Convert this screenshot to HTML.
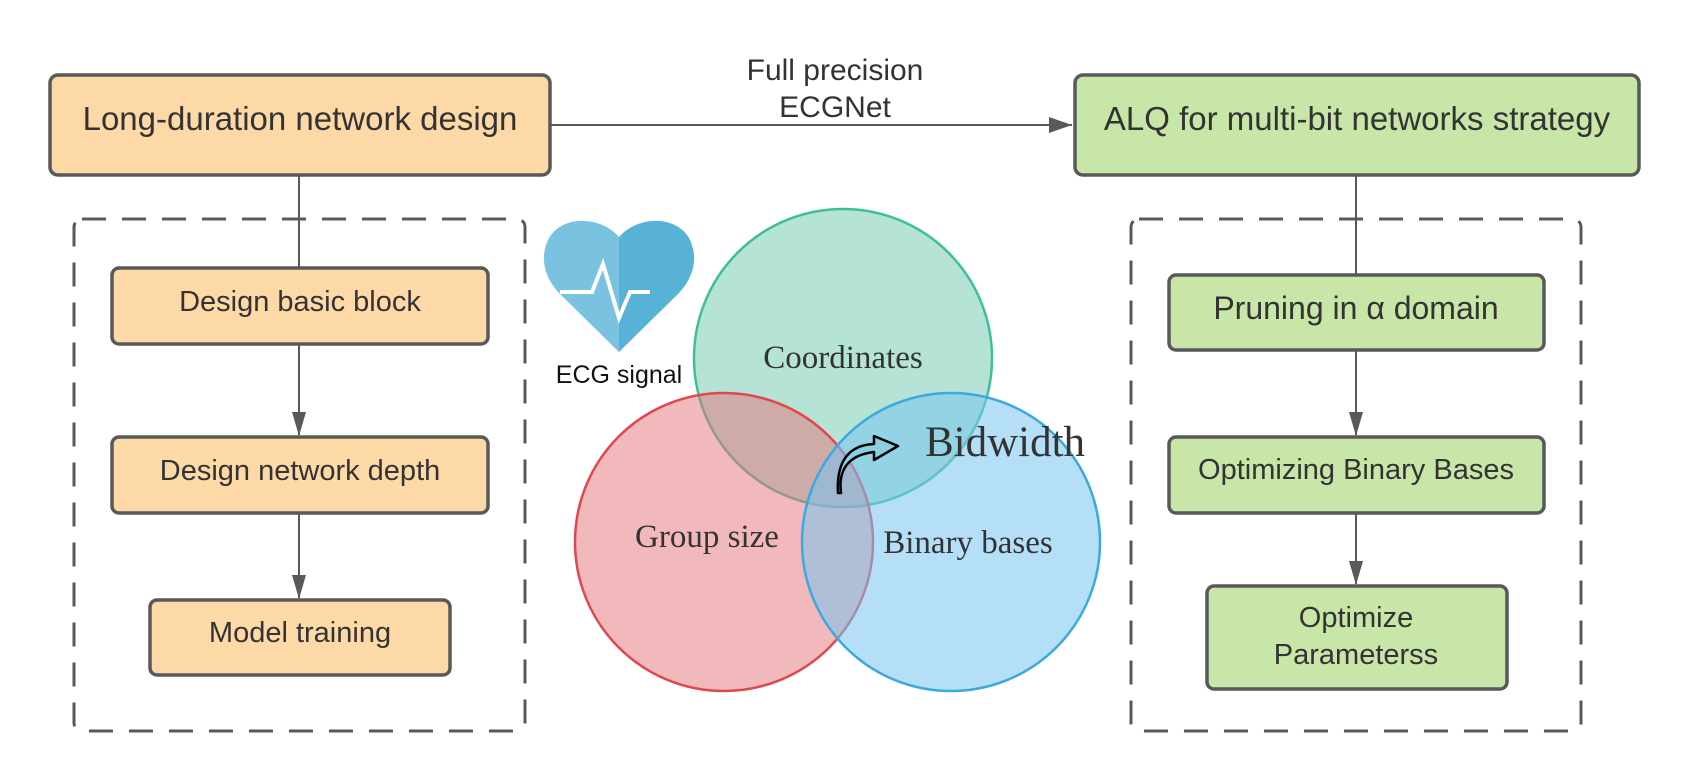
<!DOCTYPE html>
<html><head><meta charset="utf-8"><style>
html,body{margin:0;padding:0;background:#fff}
svg{display:block}
</style></head><body>
<svg width="1689" height="782" viewBox="0 0 1689 782" xmlns="http://www.w3.org/2000/svg">
<defs>
<marker id="av" markerWidth="24" markerHeight="16" refX="23" refY="8" orient="auto" markerUnits="userSpaceOnUse"><path d="M0,1 L24,8 L0,15 Z" fill="#595959"/></marker>
</defs>
<g font-family="Liberation Sans, sans-serif" fill="#333">
<rect x="74" y="219" width="451" height="512" rx="8" fill="none" stroke="#595959" stroke-width="3" stroke-dasharray="24,16"/>
<rect x="1131" y="219" width="450" height="512" rx="8" fill="none" stroke="#595959" stroke-width="3" stroke-dasharray="24,16"/>
<line x1="299" y1="175" x2="299" y2="268" stroke="#595959" stroke-width="2"/>
<line x1="299" y1="344" x2="299" y2="435" stroke="#595959" stroke-width="2" marker-end="url(#av)"/>
<line x1="299" y1="513" x2="299" y2="598" stroke="#595959" stroke-width="2" marker-end="url(#av)"/>
<line x1="1356" y1="175" x2="1356" y2="275" stroke="#595959" stroke-width="2"/>
<line x1="1356" y1="350" x2="1356" y2="435" stroke="#595959" stroke-width="2" marker-end="url(#av)"/>
<line x1="1356" y1="513" x2="1356" y2="584" stroke="#595959" stroke-width="2" marker-end="url(#av)"/>
<line x1="551" y1="125" x2="1072" y2="125" stroke="#595959" stroke-width="2"/>
<path d="M1049,117 L1072,125 L1049,133 Z" fill="#595959"/>
<text x="835" y="80" font-size="30" text-anchor="middle">Full precision</text>
<text x="835" y="117" font-size="30" text-anchor="middle">ECGNet</text>
<rect x="50" y="75" width="500" height="100" rx="8" fill="#fed9a8" stroke="#595959" stroke-width="3.5"/>
<text x="300" y="130" font-size="33" text-anchor="middle">Long-duration network design</text>
<rect x="1075" y="75" width="564" height="100" rx="8" fill="#c8e6a8" stroke="#595959" stroke-width="3.5"/>
<text x="1357" y="130" font-size="33" text-anchor="middle">ALQ for multi-bit networks strategy</text>
<rect x="112" y="268" width="376" height="76" rx="7" fill="#fed9a8" stroke="#595959" stroke-width="3.5"/>
<text x="300" y="311" font-size="29" text-anchor="middle">Design basic block</text>
<rect x="112" y="437" width="376" height="76" rx="7" fill="#fed9a8" stroke="#595959" stroke-width="3.5"/>
<text x="300" y="480" font-size="29" text-anchor="middle">Design network depth</text>
<rect x="150" y="600" width="300" height="75" rx="7" fill="#fed9a8" stroke="#595959" stroke-width="3.5"/>
<text x="300" y="642" font-size="29" text-anchor="middle">Model training</text>
<rect x="1169" y="275" width="375" height="75" rx="7" fill="#c8e6a8" stroke="#595959" stroke-width="3.5"/>
<text x="1356" y="319" font-size="32" text-anchor="middle">Pruning in α domain</text>
<rect x="1169" y="437" width="375" height="76" rx="7" fill="#c8e6a8" stroke="#595959" stroke-width="3.5"/>
<text x="1356" y="479" font-size="29" text-anchor="middle">Optimizing Binary Bases</text>
<rect x="1207" y="586" width="300" height="103" rx="7" fill="#c8e6a8" stroke="#595959" stroke-width="3.5"/>
<text x="1356" y="627" font-size="29" text-anchor="middle">Optimize</text>
<text x="1356" y="664" font-size="29" text-anchor="middle">Parameterss</text>
<path d="M619,237 C600,215 560,215 548,240 C538,262 548,282 560,294 L619,352 Z" fill="#7ac3e0"/>
<path d="M619,237 C638,215 678,215 690,240 C700,262 690,282 678,294 L619,352 Z" fill="#58b2d8"/>
<polyline points="560,292 592,292 603,264 619,318 630,292 650,292" fill="none" stroke="#fff" stroke-width="4"/>
<text x="619" y="383" font-size="25" text-anchor="middle" fill="#111">ECG signal</text>
<circle cx="843" cy="358" r="149" fill="#7fd0b8" fill-opacity="0.58" stroke="#3fbf98" stroke-width="2.5"/>
<circle cx="724" cy="542" r="149" fill="#e6737a" fill-opacity="0.5" stroke="#e0474f" stroke-width="2.5"/>
<circle cx="951" cy="542" r="149" fill="#78c4ee" fill-opacity="0.55" stroke="#3aa9e0" stroke-width="2.5"/>
<g font-family="Liberation Serif, serif" fill="#333">
<text x="843" y="368" font-size="33" text-anchor="middle">Coordinates</text>
<text x="707" y="547" font-size="33" text-anchor="middle">Group size</text>
<text x="968" y="553" font-size="33" text-anchor="middle">Binary bases</text>
<text x="1005" y="456" font-size="43" text-anchor="middle">Bidwidth</text>
</g>
<path d="M841,493 C838,470 848,455 874,452 L874,460 L898,446 L874,436 L874,444 C850,445 836,460 838,493 Z" fill="#8cd0e0" stroke="#000" stroke-width="2.5" stroke-linejoin="round"/>
</g>
</svg>
</body></html>
